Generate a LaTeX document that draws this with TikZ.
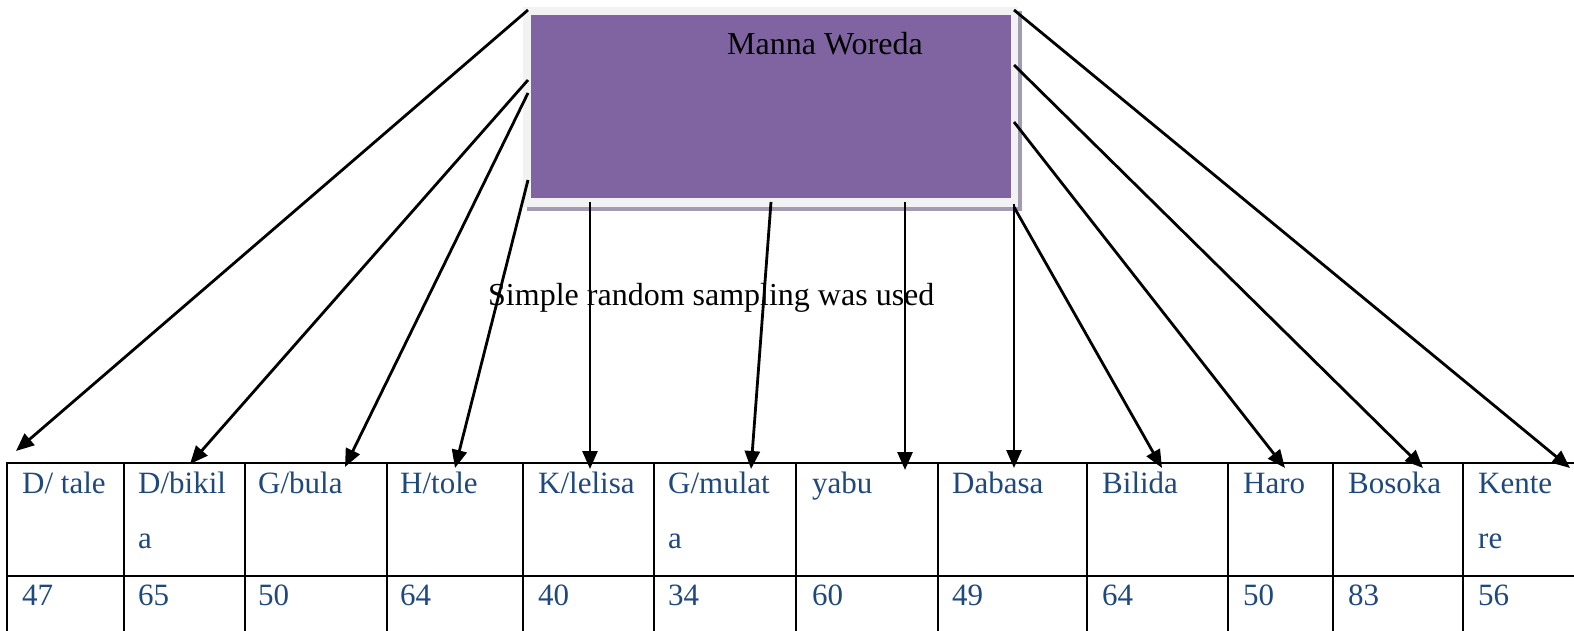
\documentclass[tikz,border=0pt]{standalone}
\usepackage{fontspec}
\setmainfont{Liberation Serif}
\usetikzlibrary{arrows.meta}
\definecolor{boxpurple}{HTML}{8064A2}
\definecolor{framegray}{HTML}{F2F2F2}
\definecolor{shadowgray}{HTML}{A39BB3}
\definecolor{cellblue}{HTML}{1F497D}
\newcommand{\twoline}[2]{\parbox[t]{4cm}{\fontsize{31}{55}\selectfont #1\\#2}}
\begin{document}
\begin{tikzpicture}[x=1pt,y=-1pt,
  plain text/.style={font=\fontsize{32}{38}\selectfont, inner sep=0pt, text=black, anchor=base west},
  cell/.style={font=\fontsize{31}{55}\selectfont, inner sep=0pt, text=cellblue, anchor=base west},
  grid/.style={line width=2.4pt},
  link/.style={line width=2.8pt, -{Triangle[length=18pt,width=15pt]}},
]
\useasboundingbox (0,0) rectangle (1574,631);

% framed purple box with its drop shadow
\fill[shadowgray] (527,11) rectangle (1022,211);
\node[fill=framegray, minimum width=495pt, minimum height=200pt, inner sep=0pt, anchor=north west] (frame) at (523,7) {};
\fill[boxpurple] (531,15) rectangle (1011,198);
\node[plain text] (title) at (727,55) {Manna Woreda};

\node[plain text] (method) at (488,305) {Simple random sampling was used};

% table rules
\foreach \x in {7,124,245,387,523,654,796,938,1087,1228,1333,1463}
  \draw[grid] (\x,463) -- (\x,640);
\draw[grid] (6,463) -- (1580,463);
\draw[grid] (6,576) -- (1580,576);

% header cells
\node[cell] (h1) at (22,493) {D/ tale};
\node[cell] (h2) at (138,493) {\twoline{D/bikil}{a}};
\node[cell] (h3) at (258,493) {G/bula};
\node[cell] (h4) at (400,493) {H/tole};
\node[cell] (h5) at (538,493) {K/lelisa};
\node[cell] (h6) at (668,493) {\twoline{G/mulat}{a}};
\node[cell] (h7) at (812,493) {yabu};
\node[cell] (h8) at (952,493) {Dabasa};
\node[cell] (h9) at (1102,493) {Bilida};
\node[cell] (h10) at (1243,493) {Haro};
\node[cell] (h11) at (1348,493) {Bosoka};
\node[cell] (h12) at (1478,493) {\twoline{Kente}{re}};

% sample sizes
\node[cell] (n1) at (22,605) {47};
\node[cell] (n2) at (138,605) {65};
\node[cell] (n3) at (258,605) {50};
\node[cell] (n4) at (400,605) {64};
\node[cell] (n5) at (538,605) {40};
\node[cell] (n6) at (668,605) {34};
\node[cell] (n7) at (812,605) {60};
\node[cell] (n8) at (952,605) {49};
\node[cell] (n9) at (1102,605) {64};
\node[cell] (n10) at (1243,605) {50};
\node[cell] (n11) at (1348,605) {83};
\node[cell] (n12) at (1478,605) {56};

% connector ends on the frame
\coordinate (s1) at (528,10);
\coordinate (s2) at (528,80);
\coordinate (s3) at (528,93);
\coordinate (s4) at (528,180);
\coordinate (s5) at (590,202);
\coordinate (s6) at (771,202);
\coordinate (s7) at (905,202);
\coordinate (s8) at (1014,204);
\coordinate (s9) at (1014,207);
\coordinate (s10) at (1014,122);
\coordinate (s11) at (1014,65);
\coordinate (s12) at (1014,10);

% connector ends at the table
\coordinate (t1) at (16,451);
\coordinate (t2) at (190,464);
\coordinate (t3) at (345,467);
\coordinate (t4) at (455,468);
\coordinate (t5) at (590,469);
\coordinate (t6) at (751,469);
\coordinate (t7) at (905,470);
\coordinate (t8) at (1014,468);
\coordinate (t9) at (1162,468);
\coordinate (t10) at (1285,468);
\coordinate (t11) at (1423,468);
\coordinate (t12) at (1570,468);

\foreach \i in {1,...,12}
  \draw[link] (s\i) -- (t\i);
\end{tikzpicture}
\end{document}
